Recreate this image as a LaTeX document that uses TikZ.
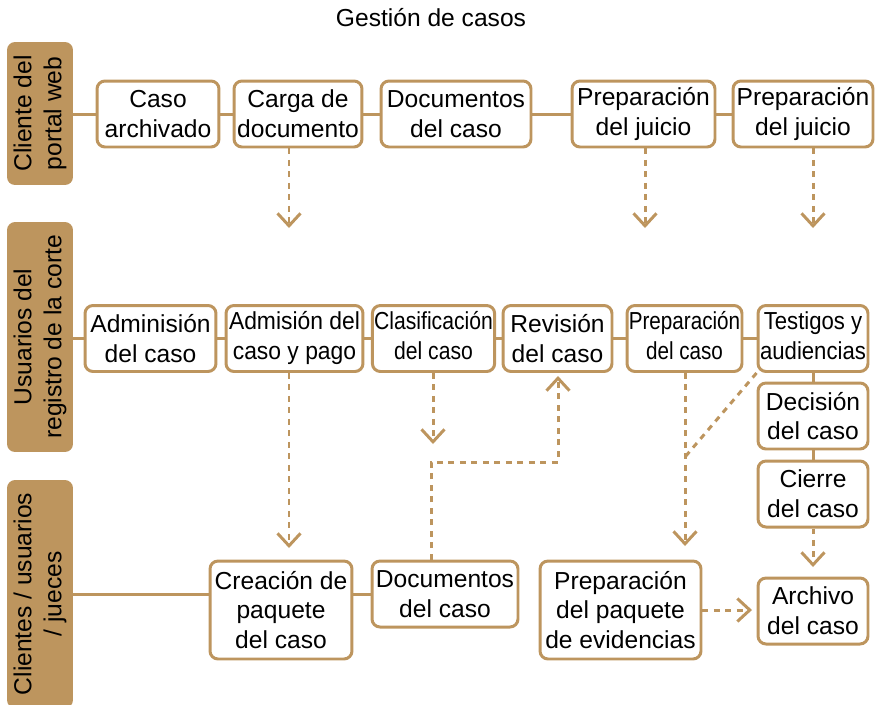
\documentclass[tikz,border=0pt]{standalone}
\usepackage{fontspec}
\usepackage{graphicx}
\setmainfont{Liberation Sans}
\usetikzlibrary{arrows.meta}
\definecolor{lanebrown}{HTML}{BD955E}
\newcommand{\squeeze}[2]{\scalebox{#1}[1]{\begin{tabular}{@{}c@{}}#2\end{tabular}}}
\tikzstyle{lane} = [rectangle, rounded corners=1.6mm, fill=lanebrown, rotate=90, minimum height=1.32cm, align=center, inner sep=1pt, font=\fontsize{14}{17}\selectfont]
\tikzstyle{task} = [rectangle, rounded corners=1.6mm, draw=lanebrown, line width=1.7pt, fill=white, minimum height=1.32cm, align=center, inner sep=1pt, font=\fontsize{14}{17}\selectfont]
\tikzstyle{link} = [draw=lanebrown, line width=1.7pt]
\tikzstyle{dashlink} = [draw=lanebrown, line width=1.7pt, dash pattern=on 1.2mm off 1.1mm]
\tikzstyle{arrow} = [dashlink, -{Straight Barb[length=2.5mm, width=4.6mm]}]

\begin{document}
\begin{tikzpicture}[x=0.02cm, y=-0.02cm]

\useasboundingbox (0,0) rectangle (875,704);

\node (title) at (431,18) [font=\fontsize{14}{17}\selectfont] {Gestión de casos};

% swimlanes
\node (lane1) at (40,113.5) [lane, minimum width=2.86cm] {Cliente del\\portal web};
\node (lane2) at (40,337) [lane, minimum width=4.6cm] {Usuarios del\\registro de la corte};
\node (lane3) at (40,594) [lane, minimum width=4.56cm] {Clientes / usuarios\\/ jueces};

% portal web
\node (ca) at (158,114) [task, minimum width=2.44cm] {Caso\\archivado};
\node (cd) at (298,114) [task, minimum width=2.56cm] {Carga de\\documento};
\node (dc) at (456,114) [task, minimum width=3cm] {Documentos\\del caso};
\node (pj1) at (643.5,114) [task, minimum width=2.86cm] {Preparación\\del juicio};
\node (pj2) at (803,114) [task, minimum width=2.8cm] {Preparación\\del juicio};

% registro de la corte
\node (ad) at (150.5,338.5) [task, minimum width=2.62cm] {Adminisión\\del caso};
\node (ap) at (294.5,338.5) [task, minimum width=2.74cm] {\squeeze{0.93}{Admisión del\\caso y pago}};
\node (cl) at (433.5,338.5) [task, minimum width=2.42cm] {\squeeze{0.86}{Clasificación\\del caso}};
\node (rv) at (557.5,338.5) [task, minimum width=2.18cm] {Revisión\\del caso};
\node (pc) at (684.5,338.5) [task, minimum width=2.3cm] {\squeeze{0.84}{Preparación\\del caso}};
\node (ta) at (813,338.5) [task, minimum width=2.2cm] {\squeeze{0.9}{Testigos y\\audiencias}};
\node (dn) at (813,416) [task, minimum width=2.2cm] {Decisión\\del caso};
\node (ci) at (813,494) [task, minimum width=2.2cm] {Cierre\\del caso};

% clientes / jueces
\node (cp) at (281,610) [task, minimum width=2.84cm, minimum height=1.96cm] {Creación de\\paquete\\del caso};
\node (d3) at (445,594) [task, minimum width=2.92cm] {Documentos\\del caso};
\node (pe) at (620.5,610) [task, minimum width=3.22cm, minimum height=1.96cm] {Preparación\\del paquete\\de evidencias};
\node (ar) at (813,611) [task, minimum width=2.2cm] {Archivo\\del caso};

\draw [link] (lane1.south |- ca) -- (ca.west);
\draw [link] (ca.east) -- (cd.west);
\draw [link] (cd.east) -- (dc.west);
\draw [link] (dc.east) -- (pj1.west);
\draw [link] (pj1.east) -- (pj2.west);

\draw [link] (lane2.south |- ad) -- (ad.west);
\draw [link] (ad.east) -- (ap.west);
\draw [link] (ap.east) -- (cl.west);
\draw [link] (cl.east) -- (rv.west);
\draw [link] (rv.east) -- (pc.west);
\draw [link] (pc.east) -- (ta.west);
\draw [link] (ta.south) -- (dn.north);
\draw [link] (dn.south) -- (ci.north);

\draw [link] (lane3.south |- d3) -- (cp.west |- d3);
\draw [link] (cp.east |- d3) -- (d3.west);

% dashed hand-offs
\coordinate (t1) at (289,228);
\coordinate (t2) at (645,228);
\coordinate (t3) at (813,228);
\coordinate (t4) at (289,548);
\coordinate (t5) at (433,444);
\coordinate (t6) at (558,376);
\coordinate (bend) at (431,462);
\coordinate (t7) at (685,546);
\coordinate (dj) at (685,457);
\coordinate (t8) at (813,567);
\coordinate (t9) at (752,610);

\draw [arrow] (cd.south -| t1) -- (t1);
\draw [arrow] (pj1.south -| t2) -- (t2);
\draw [arrow] (pj2.south -| t3) -- (t3);
\draw [arrow] (ap.south -| t4) -- (t4);
\draw [arrow] (cl.south -| t5) -- (t5);
\draw [arrow] (d3.north -| bend) -- (bend) -| (t6);
\draw [arrow] (pc.south -| t7) -- (t7);
\draw [dashlink] (ta.south west) -- (dj);
\draw [arrow] (ci.south) -- (t8);
\draw [arrow] (pe.east |- t9) -- (t9);

\end{tikzpicture}
\end{document}
